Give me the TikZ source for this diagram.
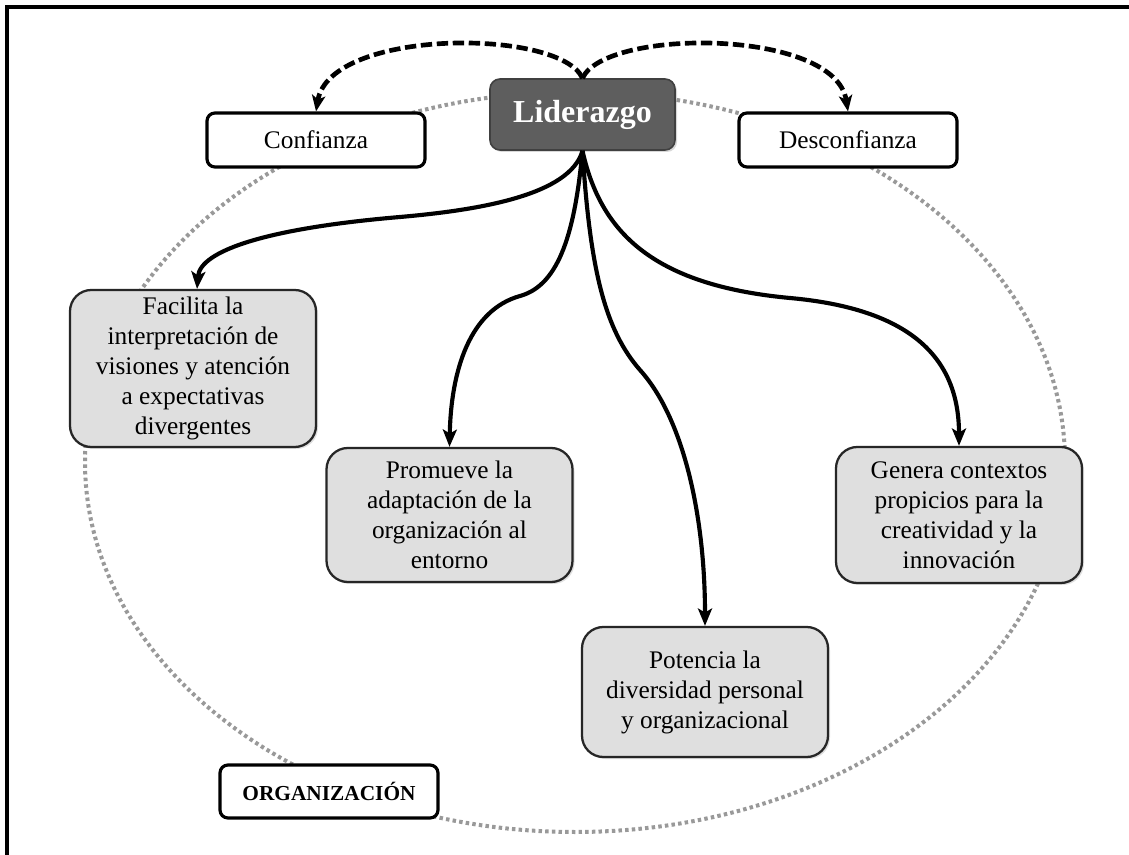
\documentclass[tikz,border=0pt]{standalone}
\usepackage{fontspec}
\setmainfont{Liberation Serif}
\usetikzlibrary{arrows.meta,shadows}

\tikzset{
  txt/.style={font=\fontsize{19}{22.5}\selectfont},
  lbox/.style={txt, draw=black, line width=2.4pt, fill=white, rounded corners=6pt,
    minimum width=163.5pt, minimum height=40.5pt},
  gbox/.style={txt, draw=black!85, line width=1.7pt, fill=gray!25, rounded corners=16pt,
    minimum width=184.5pt, align=center,
    drop shadow={opacity=0.25, shadow xshift=1.5pt, shadow yshift=-1.5pt}},
  leadbox/.style={draw=black!75, line width=1.2pt, fill=black!63, text=white,
    rounded corners=7.5pt, minimum width=138.75pt, minimum height=53.25pt,
    font=\fontsize{24}{28}\bfseries\selectfont,
    drop shadow={opacity=0.3, shadow xshift=1.5pt, shadow yshift=-1.5pt}},
  orgline/.style={draw=black!40, line width=3pt, dash pattern=on 2.6pt off 2.4pt},
  conn/.style={draw=black, line width=3.1pt, -{Stealth[length=13pt,width=10.5pt,inset=3pt]}},
  dconn/.style={draw=black, line width=3.5pt, dash pattern=on 8.5pt off 3.5pt,
    -{Stealth[length=12pt,width=10pt,inset=3pt]}},
  frame/.style={draw=black, line width=2.3pt}
}

\begin{document}
\begin{tikzpicture}[x=0.75pt,y=-0.75pt]
  \useasboundingbox (0,0) rectangle (1129,855);
  \fill[white] (0,0) rectangle (1129,855);

  % page frame (top and left edges only)
  \draw[frame] (7,855) -- (7,7) -- (1129,7);

  % organisation boundary
  \draw[orgline] (575,462) ellipse [x radius=367.5pt, y radius=277.5pt];

  % nodes
  \node[leadbox] (lid) at (582.5,114.5) {Liderazgo};
  \node[lbox] (conf) at (316,140) {Confianza};
  \node[lbox] (desc) at (848,140) {Desconfianza};

  \node[gbox, minimum height=117.75pt] (fac) at (193,368.5)
    {Facilita la\\interpretación de\\visiones y atención\\a expectativas\\divergentes};
  \node[gbox, minimum height=100.5pt] (prom) at (449.5,515)
    {Promueve la\\adaptación de la\\organización al\\entorno};
  \node[gbox, minimum height=97.5pt] (pot) at (705,692)
    {Potencia la\\diversidad personal\\y organizacional};
  \node[gbox, minimum height=102pt] (gen) at (959,515)
    {Genera contextos\\propicios para la\\creatividad y la\\innovación};

  \node[lbox, minimum height=39.75pt, font=\fontsize{16}{19}\bfseries\selectfont]
    (org) at (329,791.5) {ORGANIZACIÓN};

  % dashed links to trust / distrust
  \draw[dconn] (lid.north) .. controls (560,28) and (330,28) .. (conf.north);
  \draw[dconn] (lid.north) .. controls (605,28) and (835,28) .. (desc.north);

  % solid links to the four effects
  \draw[conn] (lid.south) .. controls (570,195) and (480,210) .. (400,217)
    .. controls (270,228) and (200,250) .. ([xshift=3pt]fac.north);
  \draw[conn] (lid.south) .. controls (575,230) and (560,285) .. (520,296)
    .. controls (470,310) and (451,370) .. (prom.north);
  \draw[conn] (lid.south) .. controls (590,270) and (605,330) .. (640,370)
    .. controls (685,420) and (705,520) .. (pot.north);
  \draw[conn] (lid.south) .. controls (600,230) and (650,285) .. (790,298)
    .. controls (900,308) and (959,350) .. (gen.north);
\end{tikzpicture}
\end{document}
